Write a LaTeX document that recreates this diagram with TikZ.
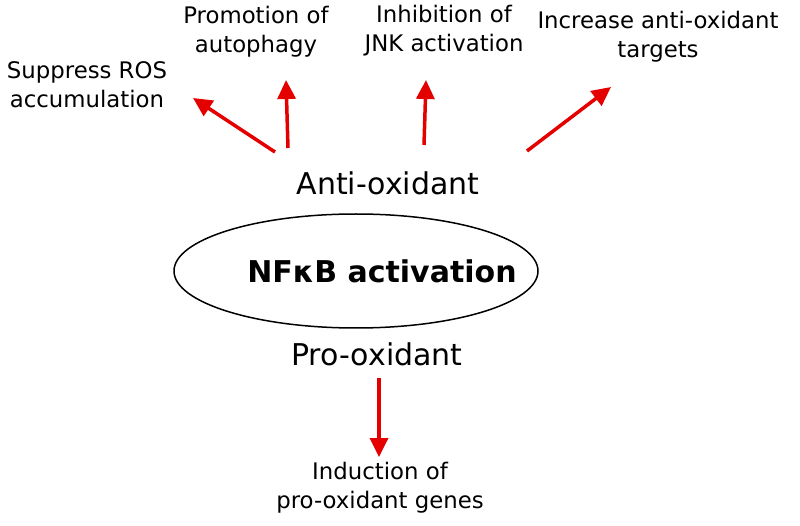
\documentclass[tikz,border=0pt]{standalone}
\usepackage{fontspec}
\setmainfont{DejaVu Sans}
\usetikzlibrary{shapes.geometric,arrows.meta}
\begin{document}
\begin{tikzpicture}[x=1pt,y=-1pt,
  lbl/.style={align=center,font=\fontsize{22.8}{29}\selectfont,inner sep=0},
  big/.style={font=\fontsize{30}{36}\selectfont,inner sep=0},
  arr/.style={draw=red!90!black,line width=3.5pt,-{Triangle[length=19pt,width=18pt]}}]
\useasboundingbox (0,0) rectangle (800,526);
\node[ellipse,draw,line width=1.5pt,inner sep=0,minimum width=364,minimum height=114] (nf) at (356,271) {};
\node[inner sep=0,font=\bfseries\fontsize{30}{36}\selectfont] (nft) at (382,271) {NFκB activation};
\node[big] (anti) at (388,183) {Anti-oxidant};
\node[big] (pro) at (377,354) {Pro-oxidant};
\node[lbl] (ros) at (87,85) {Suppress ROS\\accumulation};
\node[lbl] (aut) at (256,32) {Promotion of\\autophagy};
\node[lbl] (jnk) at (444,31) {Inhibition of\\JNK activation};
\node[lbl] (inc) at (658,37) {Increase anti-oxidant\\targets};
\node[lbl] (ind) at (380,488) {Induction of\\pro-oxidant genes};
\coordinate (a1s) at (275,152); \coordinate (a1e) at (193,98);
\coordinate (a2s) at (288,148); \coordinate (a2e) at (286,80);
\coordinate (a3s) at (424,145); \coordinate (a3e) at (426,80);
\coordinate (a4s) at (527,151); \coordinate (a4e) at (611,87);
\coordinate (a5s) at (379,378); \coordinate (a5e) at (379,457);
\draw[arr] (a1s) -- (a1e);
\draw[arr] (a2s) -- (a2e);
\draw[arr] (a3s) -- (a3e);
\draw[arr] (a4s) -- (a4e);
\draw[arr] (a5s) -- (a5e);
\end{tikzpicture}
\end{document}
